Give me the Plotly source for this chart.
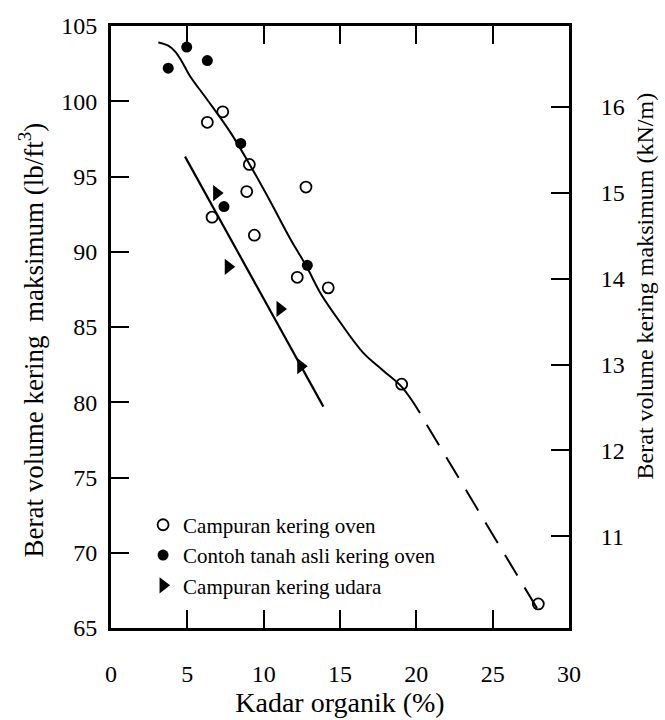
import plotly.graph_objects as go

# Data
# Campuran kering oven (open circles)
open_x = [7.32, 6.31, 9.06, 8.89, 12.77, 6.62, 9.39, 12.20, 14.23, 19.04, 27.99]
open_y = [99.3, 98.6, 95.8, 94.0, 94.3, 92.3, 91.1, 88.3, 87.6, 81.2, 66.6]
# Contoh tanah asli kering oven (filled circles)
filled_x = [3.75, 4.96, 6.31, 8.50, 7.40, 12.86]
filled_y = [102.2, 103.6, 102.7, 97.2, 93.0, 89.1]
# Campuran kering udara (filled triangles)
tri_x = [6.92, 7.68, 11.07, 12.43]
tri_y = [93.9, 89.0, 86.2, 82.4]

# Upper trend curve (solid) and its dashed extension
curve_x = [3.10, 3.75, 4.19, 4.63, 5.17, 6.27, 7.79, 9.10, 10.41, 11.72,
           12.82, 13.69, 15.00, 16.51, 17.82, 19.06, 20.24]
curve_y = [103.9, 103.69, 103.31, 102.66, 101.68, 100.15, 97.98, 95.77, 93.39, 90.9,
           89.0, 87.3, 85.33, 83.3, 82.11, 81.0, 79.28]
dash_x = [20.68, 28.32]
dash_y = [78.51, 65.61]
# Lower trend line (air-dried mixtures)
low_x = [4.85, 13.91]
low_y = [96.32, 79.71]

x_ticks = [0, 5, 10, 15, 20, 25, 30]
y_ticks = [65, 70, 75, 80, 85, 90, 95, 100, 105]
y2_ticks = [11, 12, 13, 14, 15, 16]

x_title = "Kadar organik (%)"
y_title = "Berat volume kering  maksimum (lb/ft<sup>3</sup>)"
y2_title = "Berat volume kering maksimum (kN/m)"

FONT = "Liberation Serif"

fig = go.Figure()

fig.add_trace(go.Scatter(x=curve_x, y=curve_y, mode="lines",
                         line=dict(color="black", width=2, shape="spline", smoothing=1.0),
                         showlegend=False, hoverinfo="skip"))
fig.add_trace(go.Scatter(x=dash_x, y=dash_y, mode="lines",
                         line=dict(color="black", width=2, dash="24px,14px"),
                         showlegend=False, hoverinfo="skip"))
fig.add_trace(go.Scatter(x=low_x, y=low_y, mode="lines",
                         line=dict(color="black", width=2.2),
                         showlegend=False, hoverinfo="skip"))

fig.add_trace(go.Scatter(x=open_x, y=open_y, mode="markers",
                         name="Campuran kering oven",
                         marker=dict(symbol="circle-open", size=11, color="black",
                                     line=dict(width=1.8, color="black"))))
fig.add_trace(go.Scatter(x=filled_x, y=filled_y, mode="markers",
                         name="Contoh tanah asli kering oven",
                         marker=dict(symbol="circle", size=11, color="black")))
fig.add_trace(go.Scatter(x=tri_x, y=tri_y, mode="markers",
                         name="Campuran kering udara",
                         marker=dict(symbol="triangle-right", size=14, color="black")))

# empty trace so that the right-hand (kN/m) axis is drawn
fig.add_trace(go.Scatter(x=[], y=[], yaxis="y2", showlegend=False, hoverinfo="skip"))

fig.update_layout(
    width=665, height=720,
    margin=dict(l=111, r=96, t=26, b=84),
    paper_bgcolor="white", plot_bgcolor="white",
    font=dict(family=FONT, color="black", size=24),
    showlegend=True,
    legend=dict(x=0.07, y=0.205, xanchor="left", yanchor="top",
                bgcolor="rgba(0,0,0,0)", font=dict(size=21, family=FONT),
                tracegroupgap=0, itemwidth=30),
    xaxis=dict(range=[0, 30], tickvals=x_ticks, ticks="inside", ticklen=18,
               tickwidth=2, tickcolor="black", showline=True, linewidth=3,
               linecolor="black", mirror="ticks", showgrid=False, zeroline=False,
               ticklabelstandoff=22, tickfont=dict(size=24, family=FONT),
               title=dict(text=x_title, font=dict(size=28, family=FONT),
                          standoff=2)),
    yaxis=dict(range=[65, 105], tickvals=y_ticks, ticks="inside", ticklen=18,
               tickwidth=2, tickcolor="black", showline=True, linewidth=3,
               linecolor="black", showgrid=False, zeroline=False,
               ticklabelstandoff=6, tickfont=dict(size=24, family=FONT)),
    yaxis2=dict(range=[9.931, 16.943], tickvals=y2_ticks, overlaying="y",
                side="right", ticks="inside", ticklen=18, tickwidth=2,
                tickcolor="black", showline=True, linewidth=3, linecolor="black",
                showgrid=False, zeroline=False, ticklabelstandoff=24,
                tickfont=dict(size=24, family=FONT)),
    annotations=[
        dict(text=y_title, textangle=-90, xref="paper", yref="paper",
             x=-0.175, y=0.479, xanchor="center", yanchor="middle",
             showarrow=False, font=dict(size=27, family=FONT, color="black")),
        dict(text=y2_title, textangle=-90, xref="paper", yref="paper",
             x=1.168, y=0.569, xanchor="center", yanchor="middle",
             showarrow=False, font=dict(size=24, family=FONT, color="black")),
    ],
)

fig.write_html("out.html")
